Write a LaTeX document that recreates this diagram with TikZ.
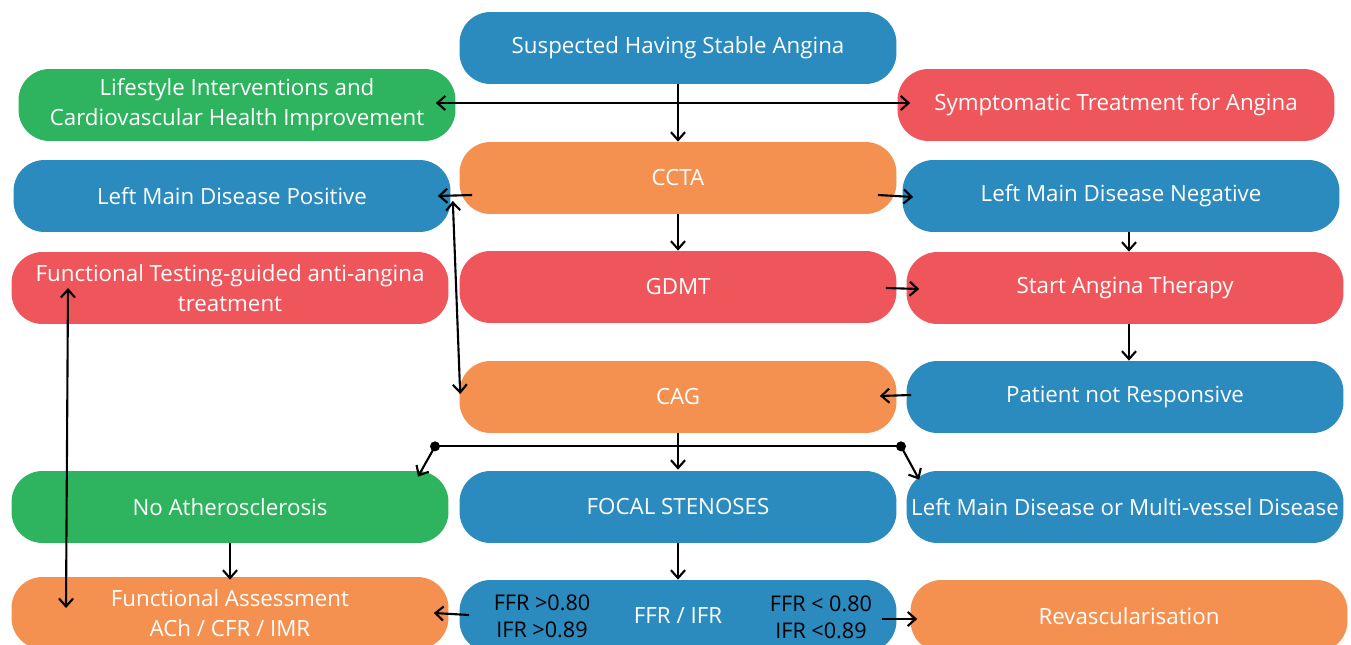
\documentclass[tikz,border=0pt]{standalone}
\usepackage{fontspec}
\setmainfont{Open Sans}
\usetikzlibrary{arrows.meta,calc}
\definecolor{cblue}{RGB}{43,138,190}
\definecolor{cgreen}{RGB}{46,180,95}
\definecolor{cred}{RGB}{239,86,92}
\definecolor{corange}{RGB}{244,144,80}
\begin{document}
\begin{tikzpicture}[x=0.02cm,y=-0.02cm,
  >={Straight Barb[length=4.5pt,width=8pt,line width=1.2pt]},
  box/.style={rounded corners=0.62cm,minimum width=8.74cm,minimum height=1.44cm,
    text=white,align=center,inner sep=0pt,font=\fontsize{12.7}{17}\selectfont},
  bluebox/.style={box,fill=cblue},
  greenbox/.style={box,fill=cgreen},
  redbox/.style={box,fill=cred},
  orangebox/.style={box,fill=corange},
  blk/.style={text=black,align=center,inner sep=0pt,font=\fontsize{12.3}{15.5}\selectfont},
  conn/.style={line width=1.2pt,black,->},
  dconn/.style={line width=1.2pt,black,<->},
  line/.style={line width=1.2pt,black},
  dot/.style={circle,fill=black,inner sep=0pt,minimum size=0.2cm}]
\useasboundingbox (0,0) rectangle (1351,645);
\fill[white] (0,0) rectangle (1351,645);

\node[bluebox]   (sus)   at (678,48)  {Suspected Having Stable Angina};
\node[greenbox]  (life)  at (237,105) {Lifestyle Interventions and\\Cardiovascular Health Improvement};
\node[redbox]    (symp)  at (1116,105){Symptomatic Treatment for Angina};
\node[orangebox] (ccta)  at (678,178) {CCTA};
\node[bluebox]   (lmdp)  at (232,196) {Left Main Disease Positive};
\node[bluebox]   (lmdn)  at (1121,196){Left Main Disease Negative};
\node[redbox]    (ftest) at (230,288) {Functional Testing-guided anti-angina\\treatment};
\node[redbox]    (gdmt)  at (678,287) {GDMT};
\node[redbox]    (start) at (1125,288){Start Angina Therapy};
\node[orangebox] (cag)   at (678,397) {CAG};
\node[bluebox]   (pnr)   at (1125,397){Patient not Responsive};
\node[greenbox]  (noath) at (230,507) {No Atherosclerosis};
\node[bluebox]   (focal) at (678,507) {FOCAL STENOSES};
\node[bluebox]   (lmdmv) at (1125,507){Left Main Disease or Multi-vessel Disease};
\node[orangebox] (fass)  at (230,613) {Functional Assessment\\ACh / CFR / IMR};
\node[bluebox]   (ffr)   at (678,616) {FFR / IFR};
\node[orangebox] (revasc) at (1129,616){Revascularisation};
\node[blk] (ffrl) at ($(ffr)+(-136,0)$) {FFR >0.80\\IFR >0.89};
\node[blk] (ffrr) at ($(ffr)+(143,1)$) {FFR < 0.80\\IFR <0.89};

% connectors
\draw[conn] (sus.south) -- (ccta.north);
\draw[dconn] ($(life.east)+(-20,-2)$) -- ($(symp.west)+(13,-2)$);
\draw[conn] ($(ccta.west)+(13,17)$) -- ($(lmdp.east)+(-13,0)$);
\draw[conn] ($(ccta.east)+(-19,17)$) -- ($(lmdn.west)+(11,1)$);
\draw[dconn] ($(lmdp.east)+(2,5)$) -- ($(cag.west)+(1,-3)$);
\draw[conn] (ccta.south) -- (gdmt.north);
\draw[conn] ($(gdmt.east)+(-11,1)$) -- ($(start.west)+(13,1)$);
\draw[conn] ($(lmdn.south)+(8,0)$) -- ($(start.north)+(4,0)$);
\draw[conn] ($(start.south)+(4,0)$) -- ($(pnr.north)+(4,0)$);
\draw[conn] ($(pnr.west)+(5,-2)$) -- ($(cag.east)+(-17,-1)$);
\coordinate (bl) at ($(cag.south)+(-243,13)$);
\coordinate (br) at ($(cag.south)+(223,13)$);
\draw[line] (bl) -- (br);
\draw[conn] (cag.south) -- ($(focal.north)+(0,-1)$);
\node[dot] (bld) at (bl) {};
\node[dot] (brd) at (br) {};
\draw[conn] (bld.center) -- ($(noath.north)+(188,6)$);
\draw[conn] (brd.center) -- ($(lmdmv.north west)+(13,9)$);
\draw[conn] (noath.south) -- ($(fass.north)+(0,3)$);
\draw[conn] (focal.south) -- (ffr.north);
\draw[conn] ($(ffr.west)+(10,-1)$) -- ($(fass.east)+(-15,0)$);
\draw[conn] ($(ffr.east)+(-15,3)$) -- ($(revasc.west)+(7,3)$);
\draw[dconn] ($(ftest)+(-162,0)$) -- ($(fass)+(-164,-5)$);
\end{tikzpicture}
\end{document}
